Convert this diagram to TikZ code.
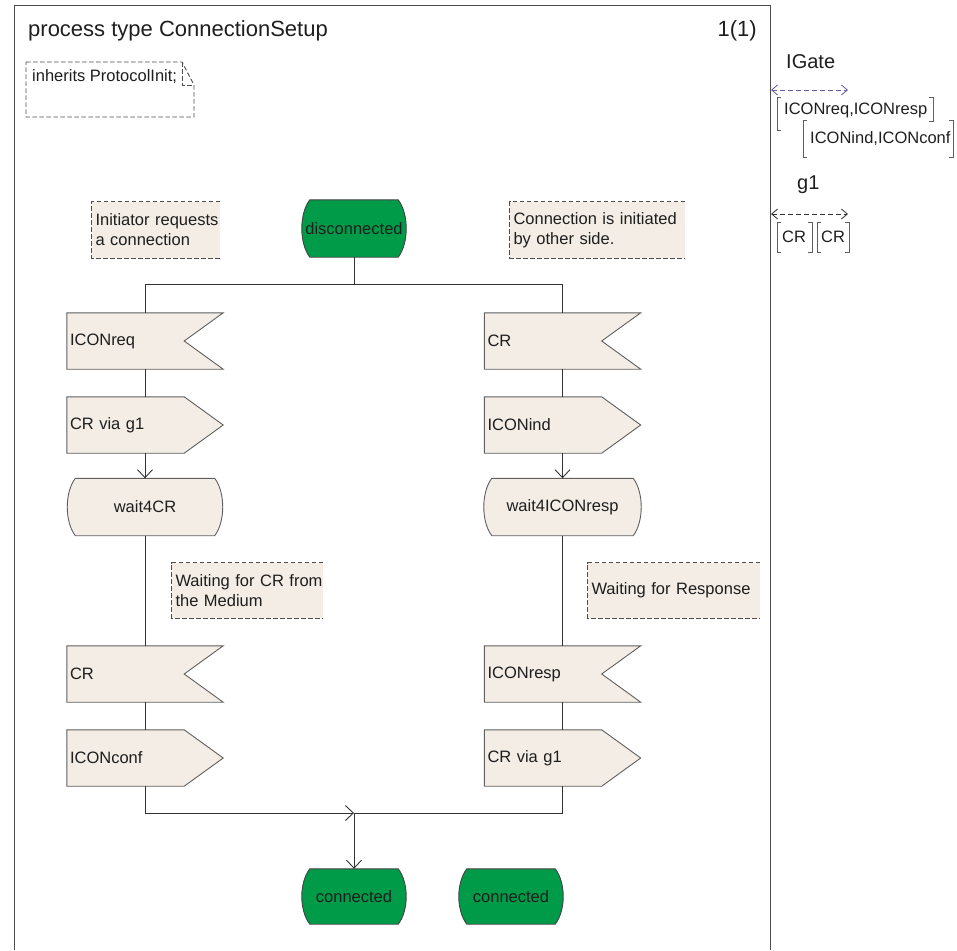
\documentclass[tikz,border=0pt]{standalone}
\usepackage{fontspec}
\setmainfont{Liberation Sans}
\usetikzlibrary{arrows.meta,calc}

\definecolor{paper}{RGB}{243,237,230}
\definecolor{sdlgreen}{RGB}{0,155,72}
\definecolor{edge}{RGB}{95,95,95}
\definecolor{wire}{RGB}{50,50,50}
\definecolor{ink}{RGB}{30,30,30}
\definecolor{gatepurple}{RGB}{100,90,165}

\pgfdeclarelayer{bg}
\pgfsetlayers{bg,main}

% SDL symbol outlines, drawn around an existing node
\newcommand\sdlinput[1]{%
  \path[outline] (#1.north west) -- (#1.north east) -- ($(#1.east)+(-39,0)$)
    -- (#1.south east) -- (#1.south west) -- cycle;}
\newcommand\sdloutput[1]{%
  \path[outline] (#1.north west) -- ($(#1.north east)+(-39,0)$) -- (#1.east)
    -- ($(#1.south east)+(-39,0)$) -- (#1.south west) -- cycle;}
\newcommand\sdlstate[2]{%
  \path[#2] ($(#1.north west)+(8,0)$) -- ($(#1.north east)+(-8,0)$)
    .. controls ($(#1.north east)+(2.7,14)$) and ($(#1.south east)+(2.7,-14)$) .. ($(#1.south east)+(-8,0)$)
    -- ($(#1.south west)+(8,0)$)
    .. controls ($(#1.south west)+(-2.7,-14)$) and ($(#1.north west)+(-2.7,14)$) .. cycle;}
\newcommand\sdlcomment[1]{%
  \fill[paper] (#1.north west) rectangle (#1.south east);
  \draw[cmtline] (#1.north east) -- (#1.north west) -- (#1.south west) -- (#1.south east);}

\begin{document}
\begin{tikzpicture}[x=1pt,y=-1pt,
  txt/.style={font=\fontsize{16.5}{20}\selectfont, text=ink, inner sep=0pt},
  big/.style={font=\fontsize{22}{24}\selectfont, text=ink, inner sep=0pt},
  mid/.style={font=\fontsize{20}{24}\selectfont, text=ink, inner sep=0pt},
  wire/.style={draw=wire, line width=0.9pt},
  flow/.style={wire, -{Straight Barb[length=8pt,width=15pt,line width=0.9pt]}},
  outline/.style={draw=edge, line width=0.9pt, fill=paper, line join=miter},
  greenfill/.style={draw=edge!70!black, line width=0.9pt, fill=sdlgreen},
  beigefill/.style={draw=edge, line width=0.9pt, fill=paper},
  cmtline/.style={draw=edge!80!black, line width=0.9pt, dash pattern=on 4.5pt off 2.5pt},
  sig/.style={txt, minimum width=156pt, minimum height=56pt, text width=150pt, align=left},
  st/.style={txt, minimum height=57pt, align=center},
  cmt/.style={txt, align=left},
  gatearr/.style={line width=0.9pt, dash pattern=on 5pt off 3pt,
    {Straight Barb[length=6pt,width=10pt,line width=0.8pt]}-{Straight Barb[length=6pt,width=10pt,line width=0.8pt]}},
  bracket/.style={draw=edge, line width=0.8pt}
]
\useasboundingbox (0,0) rectangle (957,950);

% diagram frame
\draw[draw=edge!80!black, line width=1pt] (14,950) -- (14,6) -- (770,6) -- (770,950);
\node[big, anchor=base west] (title) at (28,37) {process type ConnectionSetup};
\node[big, anchor=base east] (page) at (757,37) {1(1)};

% inheritance note
\draw[cmtline] (26,62) -- (182,62) -- (194,85) -- (194,117) -- (26,117) -- cycle;
\draw[cmtline] (182,62) -- (182,85) -- (194,85);
\node[txt, anchor=base west] (inh) at (32,81) {inherits ProtocolInit;};

% start state
\node[st, minimum width=104pt] (dis) at (354,228.5) {disconnected};

% left branch
\node[sig] (inL)   at (145,341) {ICONreq};
\node[sig] (outL)  at (145,425) {CR via g1};
\node[st, minimum width=155pt] (stL) at (145,507) {wait4CR};
\node[sig] (in2L)  at (145,674) {CR};
\node[sig] (out2L) at (145,758) {ICONconf};

% right branch
\node[sig] (inR)   at (562.5,341) {CR};
\node[sig] (outR)  at (562.5,425) {ICONind};
\node[st, minimum width=157pt] (stR) at (562.5,507) {wait4ICONresp};
\node[sig] (in2R)  at (562.5,674) {ICONresp};
\node[sig] (out2R) at (562.5,758) {CR via g1};

% final states
\node[st, minimum width=104pt, minimum height=55pt] (conL) at (354,896.5) {connected};
\node[st, minimum width=104pt, minimum height=55pt] (conR) at (511,896.5) {connected};

% comments
\node[cmt, minimum width=128pt, minimum height=56pt, text width=121pt] (c1) at (156,230)
  {\mbox{Initiator requests}\\\mbox{a connection}};
\node[cmt, minimum width=175pt, minimum height=56pt, text width=168pt] (c2) at (597.5,230)
  {\mbox{Connection is initiated}\\\mbox{by other side.}};
\node[cmt, minimum width=151pt, minimum height=55pt, text width=144pt] (c3) at (247.5,590.5)
  {\mbox{Waiting for CR from}\\\mbox{the Medium}};
\node[cmt, minimum width=172pt, minimum height=55pt, text width=165pt] (c4) at (674,590.5)
  {\mbox{Waiting for Response}};

\begin{pgfonlayer}{bg}
  \sdlstate{dis}{greenfill}
  \sdlinput{inL} \sdloutput{outL} \sdlstate{stL}{beigefill} \sdlinput{in2L} \sdloutput{out2L}
  \sdlinput{inR} \sdloutput{outR} \sdlstate{stR}{beigefill} \sdlinput{in2R} \sdloutput{out2R}
  \sdlstate{conL}{greenfill}
  \sdlstate{conR}{greenfill}
  \sdlcomment{c1} \sdlcomment{c2} \sdlcomment{c3} \sdlcomment{c4}
\end{pgfonlayer}

% flow lines
\coordinate (split) at (354,284);
\coordinate (merge) at (354,813);
\draw[wire] (dis.south) -- (split);
\draw[wire] (split) -| (inL.north);
\draw[wire] (split) -| (inR.north);
\draw[wire] (inL.south) -- (outL.north);
\draw[flow] (outL.south) -- (stL.north);
\draw[wire] (stL.south) -- (in2L.north);
\draw[wire] (in2L.south) -- (out2L.north);
\draw[wire] (inR.south) -- (outR.north);
\draw[flow] (outR.south) -- (stR.north);
\draw[wire] (stR.south) -- (in2R.north);
\draw[wire] (in2R.south) -- (out2R.north);
\draw[flow] (out2L.south) |- (merge);
\draw[wire] (out2R.south) |- (merge);
\draw[flow] (merge) -- (conL.north);

% gates
\node[mid, anchor=base west] (igate) at (786,68) {IGate};
\coordinate (igA) at (771,90);
\coordinate (igB) at (848,90);
\draw[gatearr, draw=gatepurple] (igA) -- (igB);
\node[txt, anchor=west] (sl1) at (784,110) {ICONreq,ICONresp};
\draw[bracket] (781,97) -- (777,97) -- (777,130) -- (781,130);
\draw[bracket] (929,97) -- (933,97) -- (933,121) -- (929,121);
\node[txt, anchor=west] (sl2) at (810,138.5) {ICONind,ICONconf};
\draw[bracket] (807,120) -- (803,120) -- (803,157) -- (807,157);
\draw[bracket] (949,120) -- (953,120) -- (953,157) -- (949,157);

\node[mid, anchor=base west] (g1) at (797,189) {g1};
\coordinate (g1A) at (771,214);
\coordinate (g1B) at (848,214);
\draw[gatearr, draw=wire] (g1A) -- (g1B);
\node[txt, anchor=west] (cr1) at (782,237) {CR};
\node[txt, anchor=west] (cr2) at (821,237) {CR};
\draw[bracket] (781,222) -- (777,222) -- (777,252) -- (781,252);
\draw[bracket] (808,222) -- (812,222) -- (812,252) -- (808,252);
\draw[bracket] (821,222) -- (817,222) -- (817,252) -- (821,252);
\draw[bracket] (845,222) -- (849,222) -- (849,252) -- (845,252);
\end{tikzpicture}
\end{document}
